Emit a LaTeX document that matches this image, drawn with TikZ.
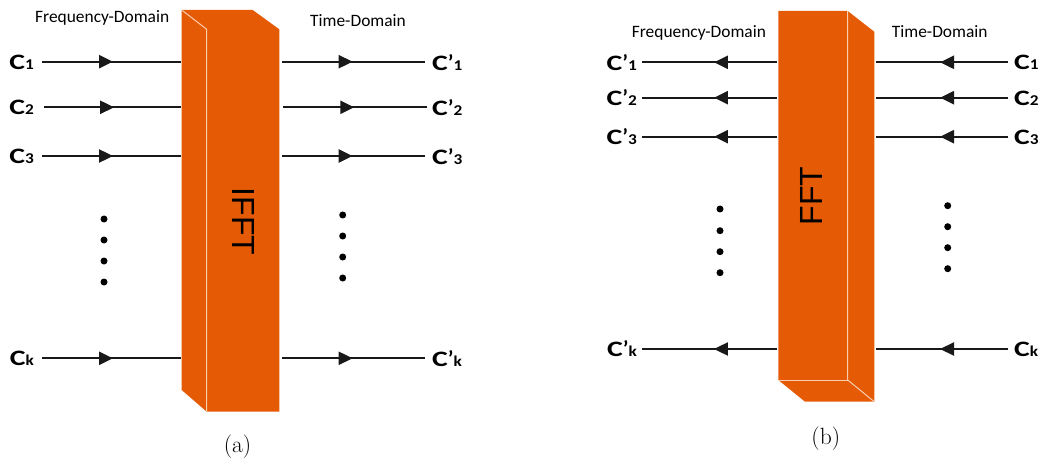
\documentclass[tikz,border=0pt]{standalone}
\usepackage{fontspec}
\usetikzlibrary{arrows.meta,decorations.markings}
\newfontfamily\calib{Carlito}
\newfontfamily\arialf{Liberation Sans}
\definecolor{boxor}{RGB}{229,90,5}
\definecolor{edgel}{RGB}{250,205,175}
\definecolor{lin}{RGB}{25,25,25}
\newcommand{\clab}[2]{{\calib\bfseries\fontsize{22}{22}\selectfont\scalebox{1.35}[1]{C}#1{\fontsize{15}{15}\selectfont\scalebox{1.15}[1]{#2}}}}
\tikzset{
  sigline/.style={draw=lin, line width=2.3pt, postaction={decorate},
    decoration={markings, mark=at position #1 with {\arrow{Triangle[length=14pt,width=13pt]}}}},
  lab/.style={inner sep=0pt},
  domlab/.style={inner sep=0pt, anchor=base west, font=\calib\fontsize{17.4}{17.4}\selectfont},
  blackdot/.style={circle, fill=black, inner sep=0pt, minimum size=7pt},
  boxtext/.style={font=\arialf\fontsize{32}{32}\selectfont, inner sep=0pt},
  captext/.style={font=\fontsize{23.5}{23.5}\selectfont, inner sep=0pt}
}
\begin{document}
\begin{tikzpicture}[x=1pt,y=-1pt]
\useasboundingbox (0,0) rectangle (1041,465);
% ---------- (a) IFFT box ----------
\fill[boxor] (181.7,10) -- (252.7,10) -- (279.3,29.3) -- (279.3,411.7) -- (206.7,411.7) -- (181.7,390) -- cycle;
\draw[edgel, line width=1pt] (181.7,10) -- (206.7,29.3) -- (206.7,411.7);
\node[boxtext, rotate=-90] (ifft) at (244,221.7) {IFFT};
% left labels (a)
\node[lab, anchor=east] (a1) at (34,62) {\clab{}{1}};
\node[lab, anchor=east] (a2) at (34,107.5) {\clab{}{2}};
\node[lab, anchor=east] (a3) at (34,156.5) {\clab{}{3}};
\node[lab, anchor=east] (ak) at (34,358.5) {\clab{}{k}};
% right labels (a)
\node[lab, anchor=west] (b1) at (432,62.5) {\clab{’}{1}};
\node[lab, anchor=west] (b2) at (432,108) {\clab{’}{2}};
\node[lab, anchor=west] (b3) at (432,157) {\clab{’}{3}};
\node[lab, anchor=west] (bk) at (432,359) {\clab{’}{k}};
% line end coordinates (a)
\coordinate (a1s) at (41.7,61.7);  \coordinate (a1e) at (181,61.7);
\coordinate (a2s) at (44,107.3);   \coordinate (a2e) at (181,107.3);
\coordinate (a3s) at (41.7,156);   \coordinate (a3e) at (181,156);
\coordinate (aks) at (41.7,358.3); \coordinate (ake) at (181,358.3);
\coordinate (b1s) at (281.7,61.7); \coordinate (b1e) at (425,61.7);
\coordinate (b2s) at (283.3,107.3);\coordinate (b2e) at (426.7,107.3);
\coordinate (b3s) at (281.7,156);  \coordinate (b3e) at (425,156);
\coordinate (bks) at (281.7,358.3);\coordinate (bke) at (425,358.3);
\draw[sigline=0.512] (a1s) -- (a1e);
\draw[sigline=0.512] (a2s) -- (a2e);
\draw[sigline=0.512] (a3s) -- (a3e);
\draw[sigline=0.512] (aks) -- (ake);
\draw[sigline=0.495] (b1s) -- (b1e);
\draw[sigline=0.495] (b2s) -- (b2e);
\draw[sigline=0.495] (b3s) -- (b3e);
\draw[sigline=0.495] (bks) -- (bke);
% dots (a)
\node[blackdot] (ad1) at (104,219) {}; \node[blackdot] (ad2) at (104,240) {};
\node[blackdot] (ad3) at (104,261) {}; \node[blackdot] (ad4) at (104,282) {};
\node[blackdot] (bd1) at (342.7,215) {}; \node[blackdot] (bd2) at (342.7,236) {};
\node[blackdot] (bd3) at (342.7,257) {}; \node[blackdot] (bd4) at (342.7,278) {};
% domain labels (a)
\node[domlab] (fda) at (35,22.7) {Frequency-Domain};
\node[domlab] (tda) at (310,26.7) {Time-Domain};
\node[captext] (capa) at (237.5,446.5) {(a)};
% ---------- (b) FFT box ----------
\fill[boxor] (778.3,11) -- (847.7,11) -- (874.3,31.7) -- (874.3,401.7) -- (805,401.7) -- (778.3,380) -- cycle;
\draw[edgel, line width=1pt] (847.7,11) -- (847.7,380) -- (874.3,401.7);
\draw[edgel, line width=1pt] (778.3,380) -- (847.7,380);
\node[boxtext, rotate=90] (fft) at (811.7,196) {FFT};
% left labels (b)
\node[lab, anchor=east] (c1) at (637,62.5) {\clab{’}{1}};
\node[lab, anchor=east] (c2) at (637,98) {\clab{’}{2}};
\node[lab, anchor=east] (c3) at (637,137) {\clab{’}{3}};
\node[lab, anchor=east] (ck) at (637,349) {\clab{’}{k}};
% right labels (b)
\node[lab, anchor=west] (d1) at (1014,62.5) {\clab{}{1}};
\node[lab, anchor=west] (d2) at (1014,98) {\clab{}{2}};
\node[lab, anchor=west] (d3) at (1014,137) {\clab{}{3}};
\node[lab, anchor=west] (dk) at (1014,349) {\clab{}{k}};
% line end coordinates (b)
\coordinate (c1s) at (777.3,62.3); \coordinate (c1e) at (641.7,62.3);
\coordinate (c2s) at (777.3,97.7); \coordinate (c2e) at (641.7,97.7);
\coordinate (c3s) at (777.3,136.7);\coordinate (c3e) at (641.7,136.7);
\coordinate (cks) at (777.3,349);  \coordinate (cke) at (641.7,349);
\coordinate (d1s) at (1008.3,62.3);\coordinate (d1e) at (875.7,62.3);
\coordinate (d2s) at (1008.3,97.7);\coordinate (d2e) at (875.7,97.7);
\coordinate (d3s) at (1008.3,136.7);\coordinate (d3e) at (875.7,136.7);
\coordinate (dks) at (1008.3,349); \coordinate (dke) at (875.7,349);
\draw[sigline=0.467] (c1s) -- (c1e);
\draw[sigline=0.467] (c2s) -- (c2e);
\draw[sigline=0.467] (c3s) -- (c3e);
\draw[sigline=0.467] (cks) -- (cke);
\draw[sigline=0.515] (d1s) -- (d1e);
\draw[sigline=0.515] (d2s) -- (d2e);
\draw[sigline=0.515] (d3s) -- (d3e);
\draw[sigline=0.515] (dks) -- (dke);
% dots (b)
\node[blackdot] (cd1) at (720,209) {}; \node[blackdot] (cd2) at (720,230.7) {};
\node[blackdot] (cd3) at (720,251.7) {}; \node[blackdot] (cd4) at (720,272.7) {};
\node[blackdot] (dd1) at (947.7,205.7) {}; \node[blackdot] (dd2) at (947.7,226.7) {};
\node[blackdot] (dd3) at (947.7,247.7) {}; \node[blackdot] (dd4) at (947.7,268.7) {};
% domain labels (b)
\node[domlab] (fdb) at (631.7,37.3) {Frequency-Domain};
\node[domlab] (tdb) at (891.7,37.3) {Time-Domain};
\node[captext] (capb) at (825.8,439) {(b)};
\end{tikzpicture}
\end{document}
